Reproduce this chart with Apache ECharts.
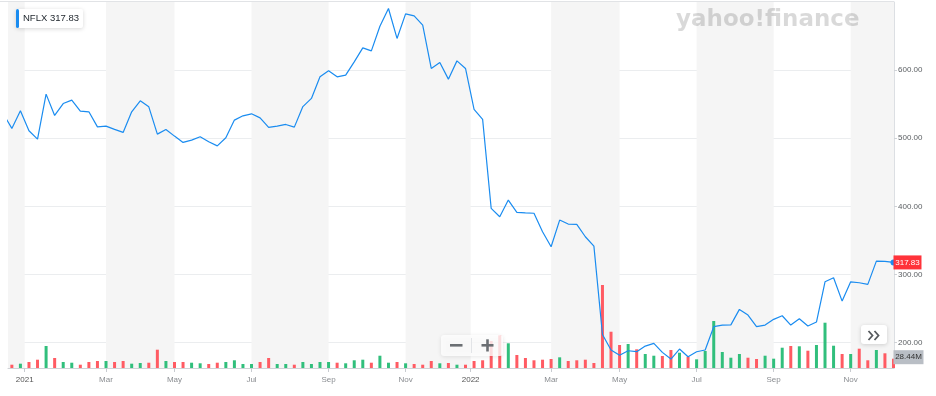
<!DOCTYPE html>
<html><head><meta charset="utf-8">
<script src="https://cdn.jsdelivr.net/npm/echarts@6/dist/echarts.min.js"></script>
<style>html,body{margin:0;padding:0;background:#fff}#c{width:936px;height:396px}</style>
</head><body><div id="c"></div>
<script>
// ---- data (weekly, first entry = week before the first full visible week) ----
const ticker = 'NFLX';
const firstIndex = -1;
const closes = [536,
 514.5,540.3,511,498.8,564.8,533.5,551,556,539.9,538.9,
 516.8,517.9,513,508.6,538.8,555,546.2,506.1,513,503.2,
 493.9,497.3,502.2,494.8,488.9,500.7,526.7,533,535.9,530,
 515.9,517.9,520.3,516.4,546.5,558.5,590.2,599,590.2,592.7,
 612.2,632.7,628.3,664.5,690.5,646.5,682.6,679.7,666,602.5,
 611.3,586.8,613.6,602.5,542.3,527.7,397.1,384.8,409.3,391.3,
 390.6,390,362.8,340.8,380,374.1,373.6,355.5,341.8,212,
 189.3,181.7,188.2,186.8,195.1,199,185.8,176,190.7,179.5,
 186.8,189.3,223.5,225.9,226.2,248.9,240.6,223.5,225.9,234.3,
 239.6,225.9,235.2,224.5,230.3,289.4,295.3,261.1,289.4,288,
 285.6,319.8,319.3,317.83];
// volume in millions (first week unknown / off-chart)
const volumes = [null,
 10.1,13.2,18.4,25.4,67.3,30.6,18.4,16.2,10.1,18.4,
 21.4,21.4,18.4,21.4,13.2,15.3,16.2,56,21.4,18.4,
 18.4,16.2,14.4,12.2,16.2,18.4,23.6,12.2,12.2,18.4,
 30.6,12.2,12.2,10.1,18.4,12.2,18.4,18.4,16.2,14.4,
 23.6,25.4,16.2,37.6,16.2,18.4,14.4,12.2,10.1,21.4,
 14.4,15.3,10.1,10.1,21.4,23.6,82.6,100,75.6,39.8,
 30.6,23.6,25.4,27.5,32.7,21.4,23.6,25.4,15.3,254,
 111,70.4,73.4,57.2,42.8,37.6,36.7,55.1,46.8,34.6,
 26.6,52,143.8,49,31.5,42.8,31.5,27.5,37.6,28.5,
 62.1,67.3,66.4,52.9,70.4,138.6,68.2,42.8,42.8,59.1,
 23.6,55.1,45,28.44];
const tickIndex  = [1.5, 11, 19, 28, 37, 46, 53.6, 63, 71, 80, 89, 98];
const tickLabels = ['2021','Mar','May','Jul','Sep','Nov','2022','Mar','May','Jul','Sep','Nov'];
const priceTicks = [200, 300, 400, 500, 600];

// ---- axis ranges ----
const X_MIN = -0.45, X_MAX = 103.06;
const P_MIN = 162.9, P_MAX = 700;
const V_MAX = 1120;

const UP = '#31bf7c', DOWN = '#ff5b63', LINE = '#1a8cf0';
const FONT = 'Liberation Sans, Arial, sans-serif';
const GLYPH = '#6b6f73';

const lastK = closes.length - 1;
const lastX = lastK + firstIndex;
const lastPrice = closes[lastK];
const lastVol = volumes[lastK];

const lineData = closes.map((v, k) => {
  const item = { value: [k + firstIndex, v] };
  if (k === lastK) { item.symbol = 'circle'; item.symbolSize = 6; }
  return item;
});
const volData = volumes.map((v, k) => ({
  value: [k + firstIndex, v],
  itemStyle: { color: (k > 0 && closes[k] >= closes[k - 1]) ? UP : DOWN }
}));

// alternating background bands between month ticks
const edges = [X_MIN].concat(tickIndex, [X_MAX]);
const bands = [];
for (let b = 0; b + 1 < edges.length; b += 2) bands.push([{ xAxis: edges[b] }, { xAxis: edges[b + 1] }]);

const chart = echarts.init(document.getElementById('c'), null, { renderer: 'canvas' });
chart.setOption({
  animation: false,
  backgroundColor: '#fff',
  textStyle: { fontFamily: FONT },
  grid: { left: 8, right: 42, top: 2, bottom: 28, containLabel: false },
  xAxis: {
    type: 'value', min: X_MIN, max: X_MAX, z: 1,
    axisLine: { show: true, onZero: false, lineStyle: { color: '#cfd2d6', width: 1 } },
    axisTick: { show: true, length: 4, customValues: tickIndex, lineStyle: { color: '#c8cbd0' } },
    splitLine: { show: false },
    axisLabel: {
      customValues: tickIndex, margin: 8, fontSize: 8, fontFamily: FONT,
      formatter: (val) => {
        let k = 0, best = 1e9;
        tickIndex.forEach((t, j) => { if (Math.abs(t - val) < best) { best = Math.abs(t - val); k = j; } });
        const s = tickLabels[k];
        return /^\d{4}$/.test(s) ? '{y|' + s + '}' : '{m|' + s + '}';
      },
      rich: { y: { color: '#555', fontSize: 8, fontFamily: FONT }, m: { color: '#8a8d91', fontSize: 8, fontFamily: FONT } }
    }
  },
  yAxis: [{
    type: 'value', position: 'right', min: P_MIN, max: P_MAX, z: 1,
    axisLine: { show: true, onZero: false, lineStyle: { color: '#dcdfe3' } },
    axisTick: { show: true, length: 3, customValues: priceTicks, lineStyle: { color: '#cfd2d6' } },
    axisLabel: { customValues: priceTicks, margin: 4, fontSize: 8, color: '#5b5f63', fontFamily: FONT,
      formatter: v => v.toFixed(2) },
    splitLine: { show: true, lineStyle: { color: '#ebedef', width: 1 } }
  }, {
    type: 'value', min: 0, max: V_MAX, show: false, axisLine: { show: false, onZero: false }, splitLine: { show: false }
  }],
  series: [{
    type: 'line', name: 'bands', data: [], z: -1, silent: true,
    markArea: { silent: true, itemStyle: { color: '#f5f5f5' }, data: bands }
  }, {
    type: 'bar', name: 'Volume', yAxisIndex: 1, data: volData, barWidth: 3, z: 2,
    markPoint: {
      silent: true, symbol: 'rect', symbolSize: [30, 14], symbolOffset: [15, -1.5],
      itemStyle: { color: '#b9bec5' },
      label: { show: true, color: '#333', fontSize: 8, fontFamily: FONT, formatter: p => p.value.toFixed(2) + 'M' },
      data: [{ coord: [lastX, lastVol], value: lastVol }]
    }
  }, {
    type: 'line', name: ticker, data: lineData, z: 3,
    showSymbol: true, symbol: 'none',
    itemStyle: { color: LINE },
    lineStyle: { color: LINE, width: 1.2 },
    markPoint: {
      silent: true, symbol: 'rect', symbolSize: [28, 14], symbolOffset: [14, 0],
      itemStyle: { color: '#ff333a' },
      label: { show: true, color: '#fff', fontSize: 8, fontFamily: FONT, formatter: p => p.value.toFixed(2) },
      data: [{ coord: [lastX, lastPrice], value: lastPrice }]
    }
  }],
  graphic: [
    { type: 'line', z: 30, silent: true, shape: { x1: 0, y1: 1.5, x2: 894, y2: 1.5 }, style: { stroke: '#e1e3e6', lineWidth: 1 } },
    { type: 'text', z: 5, silent: true, x: 676, y: 20, style: { text: 'yahoo!finance', fontFamily: 'DejaVu Sans', fontWeight: 'bold', fontSize: 23, fill: 'rgba(0,0,0,0.15)', verticalAlign: 'middle' } },
    // legend chip
    { type: 'rect', z: 30, silent: true, shape: { x: 16, y: 9, width: 67, height: 19, r: 2 }, style: { fill: '#fff', shadowBlur: 4, shadowColor: 'rgba(0,0,0,0.16)', shadowOffsetY: 1 } },
    { type: 'rect', z: 31, silent: true, shape: { x: 16, y: 9, width: 3, height: 19, r: 1.5 }, style: { fill: '#1a8cf0' } },
    { type: 'text', z: 32, silent: true, x: 23, y: 18.5, style: { text: ticker + ' ' + lastPrice.toFixed(2), fontSize: 9.5, fontFamily: FONT, fill: '#232a31', verticalAlign: 'middle' } },
    // zoom control
    { type: 'rect', z: 30, silent: true, shape: { x: 441, y: 335, width: 62, height: 21, r: 3 }, style: { fill: 'rgba(255,255,255,0.8)', shadowBlur: 4, shadowColor: 'rgba(0,0,0,0.12)', shadowOffsetY: 1 } },
    { type: 'line', z: 31, silent: true, shape: { x1: 471.5, y1: 338, x2: 471.5, y2: 353 }, style: { stroke: '#e2e4e7', lineWidth: 1 } },
    { type: 'rect', z: 31, silent: true, shape: { x: 450, y: 344, width: 12.5, height: 2.6 }, style: { fill: GLYPH } },
    { type: 'rect', z: 31, silent: true, shape: { x: 481.5, y: 344, width: 12, height: 2.6 }, style: { fill: GLYPH } },
    { type: 'rect', z: 31, silent: true, shape: { x: 486.2, y: 339.3, width: 2.6, height: 12.2 }, style: { fill: GLYPH } },
    // scroll button
    { type: 'rect', z: 30, silent: true, shape: { x: 861, y: 325, width: 26, height: 19, r: 3 }, style: { fill: '#fff', shadowBlur: 4, shadowColor: 'rgba(0,0,0,0.16)', shadowOffsetY: 1 } },
    { type: 'polyline', z: 31, silent: true, shape: { points: [[868.5, 331], [872.5, 335.5], [868.5, 340]] }, style: { stroke: '#55595d', lineWidth: 1.8, fill: null } },
    { type: 'polyline', z: 31, silent: true, shape: { points: [[874.5, 331], [878.5, 335.5], [874.5, 340]] }, style: { stroke: '#55595d', lineWidth: 1.8, fill: null } }
  ]
});
</script></body></html>
